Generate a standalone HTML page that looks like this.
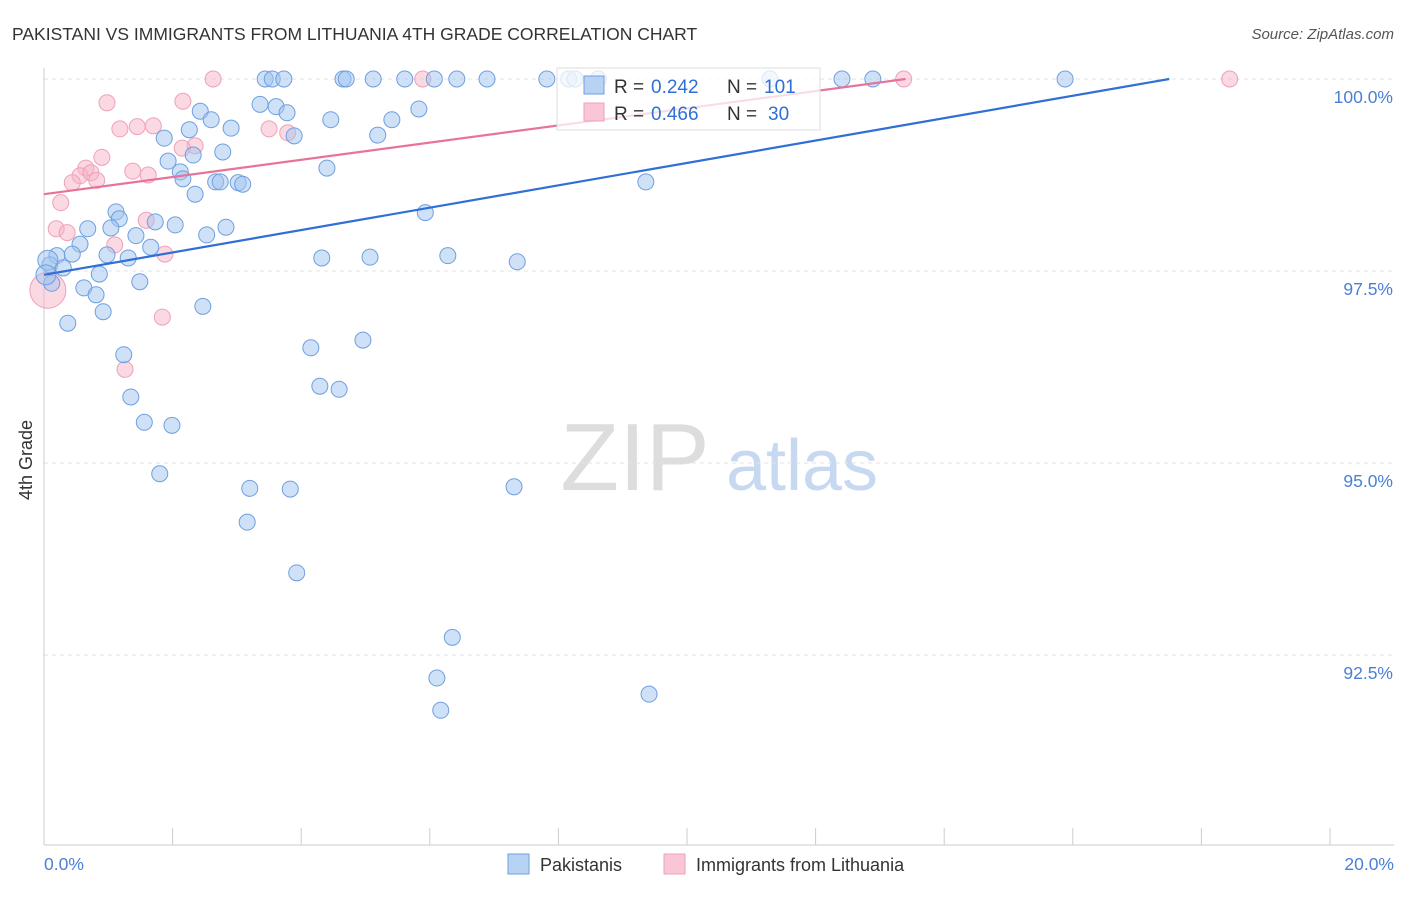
<!DOCTYPE html>
<html><head><meta charset="utf-8"><style>
body{margin:0;background:#fff;font-family:"Liberation Sans",sans-serif}
svg text{font-family:"Liberation Sans",sans-serif}
</style></head><body>
<svg id="c" width="1406" height="892">
<text x="12" y="40" font-size="17.5" fill="#333">PAKISTANI VS IMMIGRANTS FROM LITHUANIA 4TH GRADE CORRELATION CHART</text>
<text x="1394" y="39" font-size="15" fill="#555" text-anchor="end" font-style="italic">Source: ZipAtlas.com</text>
<text x="32" y="460" font-size="18" fill="#333" text-anchor="middle" transform="rotate(-90 32 460)">4th Grade</text>
<g><text x="635" y="490" font-size="96" fill="#ddd" text-anchor="middle" font-family="Liberation Serif">ZIP</text><text x="802" y="490" font-size="72" fill="#c7d9f1" text-anchor="middle">atlas</text></g>
<g id="grid"></g><g id="axes"></g><g id="pts"></g><g id="lines"></g>
<g>
<rect x="557" y="68" width="263" height="62" fill="rgba(255,255,255,0.75)" stroke="#ddd"/>
<rect x="584" y="76" width="20" height="18" fill="#b8d2f4" stroke="#6f9fe0"/>
<rect x="584" y="103" width="20" height="18" fill="#f9c6d6" stroke="#f0a0b8"/>
<text x="614" y="93" font-size="19" fill="#333">R =</text><text x="651" y="93" font-size="19" fill="#2f6fd6">0.242</text>
<text x="727" y="93" font-size="19" fill="#333">N =</text><text x="764" y="93" font-size="19" fill="#2f6fd6">101</text>
<text x="614" y="120" font-size="19" fill="#333">R =</text><text x="651" y="120" font-size="19" fill="#2f6fd6">0.466</text>
<text x="727" y="120" font-size="19" fill="#333">N =</text><text x="768" y="120" font-size="19" fill="#2f6fd6">30</text>
</g>
<g>
<rect x="508" y="854" width="21" height="20" fill="#b8d2f4" stroke="#6f9fe0"/>
<text x="540" y="871" font-size="18" fill="#333">Pakistanis</text>
<rect x="664" y="854" width="21" height="20" fill="#f9c6d6" stroke="#f0a0b8"/>
<text x="696" y="871" font-size="18" fill="#333">Immigrants from Lithuania</text>
</g>
</svg>
<script>
const blueX=[3.44,3.55,3.73,4.65,4.70,5.12,5.61,6.07,6.42,6.89,7.82,8.16,8.26,8.62,11.29,12.41,12.89,15.88,3.36,3.61,3.78,2.43,2.60,2.91,2.26,1.87,4.46,5.41,5.83,5.19,3.89,2.32,2.78,1.93,2.12,2.16,2.67,2.74,3.02,3.09,2.35,4.40,9.36,1.12,1.17,1.73,2.04,2.83,0.68,1.04,1.43,2.53,5.93,0.56,1.66,0.98,1.31,0.44,0.20,0.09,0.30,0.86,1.49,0.62,0.81,0.12,0.92,2.47,0.37,4.32,5.07,6.28,7.36,1.24,4.15,4.96,4.29,4.59,1.35,1.56,1.99,1.80,3.20,3.83,7.31,3.16,3.93,6.35,6.11,6.17,9.41,0.06,0.03];
const blueY=[100,100,100,100,100,100,100,100,100,100,100,100,100,100,100,100,100,100,99.67,99.64,99.56,99.58,99.47,99.36,99.34,99.23,99.47,99.47,99.61,99.27,99.26,99.01,99.05,98.93,98.79,98.70,98.66,98.66,98.65,98.63,98.50,98.84,98.66,98.27,98.18,98.14,98.10,98.07,98.05,98.06,97.96,97.97,98.26,97.85,97.81,97.71,97.67,97.72,97.70,97.58,97.54,97.46,97.36,97.28,97.19,97.34,96.97,97.04,96.82,97.67,97.68,97.70,97.62,96.41,96.50,96.60,96.00,95.96,95.86,95.53,95.49,94.86,94.67,94.66,94.69,94.23,93.57,92.73,92.20,91.78,91.99,97.64,97.45];
const pinkX=[2.63,5.89,13.37,18.44,0.98,2.16,1.70,1.45,1.18,3.50,3.79,2.35,2.15,0.90,0.65,0.56,0.73,1.38,1.62,0.44,0.82,0.26,1.59,0.19,0.36,1.10,1.88,1.84,1.26,0.06];
const pinkY=[100,100,100,100,99.69,99.71,99.39,99.38,99.35,99.35,99.30,99.13,99.10,98.98,98.84,98.74,98.78,98.80,98.75,98.65,98.68,98.39,98.16,98.05,98.00,97.84,97.72,96.90,96.22,97.25];
const blueTrend=[97.45,100],blueTrendX=[0,17.5];
const pinkTrend=[98.5,100],pinkTrendX=[0,13.4];
const yTicks=[100,97.5,95,92.5];
const yTickLabels=["100.0%","97.5%","95.0%","92.5%"];
const xTicks=[0,2,4,6,8,10,12,14,16,18,20];
const NS="http://www.w3.org/2000/svg";
const sx=v=>44+v*64.3, sy=v=>79+(100-v)*76.8;
function mk(p,t,a){const e=document.createElementNS(NS,t);for(const k in a)e.setAttribute(k,a[k]);document.getElementById(p).appendChild(e);return e;}
yTicks.forEach((v,i)=>{
 const g=mk('grid','line',{x1:44,x2:1394,y1:sy(v),y2:sy(v),stroke:'#e3e3e3','stroke-dasharray':'4,4'});
 
 
 const t=mk('axes','text',{x:1393,y:sy(v)+24,'font-size':17.5,fill:'#4a7fd6','text-anchor':'end'});t.textContent=yTickLabels[i];
 
 
});
const ax=mk('axes','line',{x1:44,x2:1394,y1:845,y2:845,stroke:'#ccc'});


const ay=mk('axes','line',{x1:44,x2:44,y1:68,y2:845,stroke:'#ccc'});


xTicks.forEach(v=>{const l=mk('axes','line',{x1:sx(v),x2:sx(v),y1:828,y2:845,stroke:'#ccc'});
 
 });
const t0=mk('axes','text',{x:44,y:870,'font-size':17.5,fill:'#4a7fd6'});t0.textContent='0.0%';


const t1=mk('axes','text',{x:1394,y:870,'font-size':17.5,fill:'#4a7fd6','text-anchor':'end'});t1.textContent='20.0%';


pinkX.forEach((x,i)=>{const r=(i==pinkX.length-1)?18:8;const c=mk('pts','circle',{cx:sx(x),cy:sy(pinkY[i]),r:r,fill:'rgba(245,180,200,0.5)',stroke:'#f0a0b8','stroke-width':1});
 
 });
blueX.forEach((x,i)=>{const r=(i>=blueX.length-2)?10:8;const c=mk('pts','circle',{cx:sx(x),cy:sy(blueY[i]),r:r,fill:'rgba(160,195,240,0.5)',stroke:'#6f9fe0','stroke-width':1});
 
 });
const bl=mk('lines','line',{x1:sx(blueTrendX[0]),y1:sy(blueTrend[0]),x2:sx(blueTrendX[1]),y2:sy(blueTrend[1]),stroke:'#2f6fd6','stroke-width':2.2});


const pl=mk('lines','line',{x1:sx(pinkTrendX[0]),y1:sy(pinkTrend[0]),x2:sx(pinkTrendX[1]),y2:sy(pinkTrend[1]),stroke:'#e8739a','stroke-width':2.2});


</script>
</body></html>
